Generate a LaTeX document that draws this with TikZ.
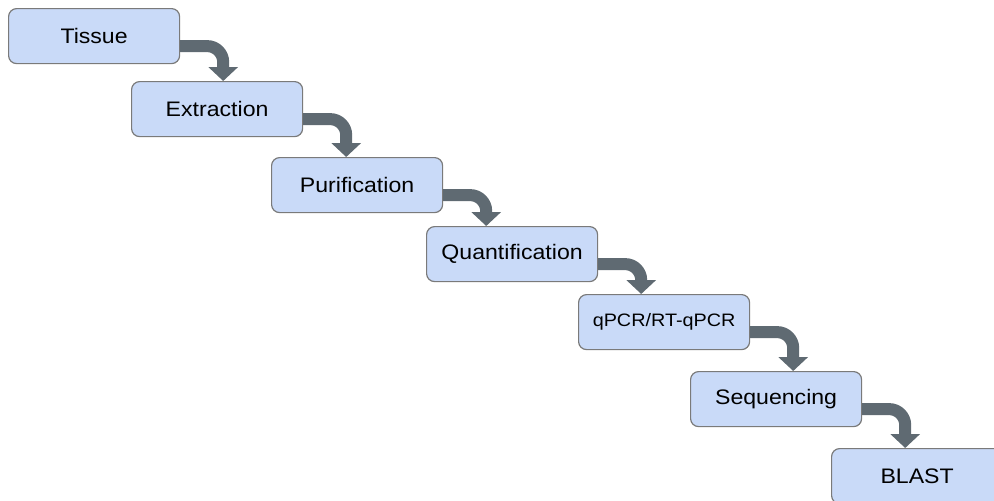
\documentclass[tikz,border=0pt]{standalone}
\usepackage{fontspec}
\setmainfont{Liberation Sans}[FakeStretch=1.1]
\usetikzlibrary{arrows.meta}
\definecolor{boxfill}{HTML}{C9DAF8}
\definecolor{boxline}{HTML}{7A7A7A}
\definecolor{arrowgray}{HTML}{5F6A72}
\tikzset{
  stepbox/.style={draw=boxline, line width=1.2pt, fill=boxfill, rounded corners=8pt,
    minimum width=171pt, minimum height=55pt, anchor=north west, inner sep=0pt,
    font=\fontsize{21}{24}\selectfont},
  flow/.style={draw=arrowgray, line width=12pt, rounded corners=16pt,
    -{Triangle[width=29pt,length=14pt]}}
}
\begin{document}
\begin{tikzpicture}[x=1pt,y=-1pt]
\useasboundingbox (0,0) rectangle (994,501);
\clip (0,0) rectangle (994,501);
\node[stepbox] (t) at (8,8) {Tissue};
\node[stepbox] (e) at (131,81) {Extraction};
\node[stepbox] (p) at (271,157) {Purification};
\node[stepbox] (q) at (426,226) {Quantification};
\node[stepbox, font=\fontsize{18}{21}\selectfont] (r) at (578,294) {qPCR/RT-qPCR};
\node[stepbox] (s) at (690,371) {Sequencing};
\node[stepbox] (b) at (831,448) {BLAST};
\foreach \a/\bb in {t/e,e/p,p/q,q/r,r/s,s/b}{
  \coordinate (\a x) at ([xshift=43pt,yshift=-10pt]\a.east);
  \draw[flow] ([yshift=-10pt]\a.east) -| (\a x |- \bb.north);
}
\end{tikzpicture}
\end{document}
